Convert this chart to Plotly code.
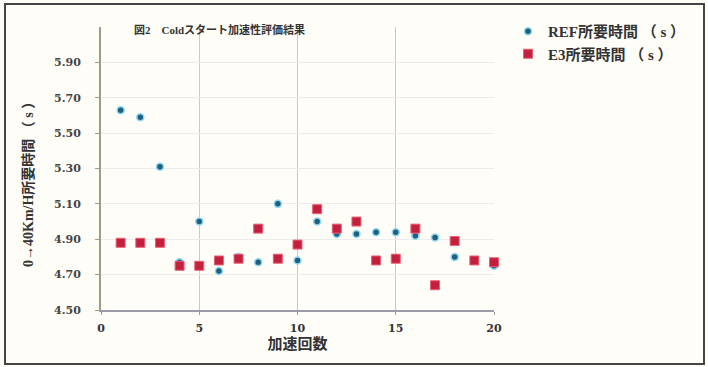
import plotly.graph_objects as go

runs = list(range(1, 21))
ref_time = [5.63, 5.59, 5.31, 4.77, 5.00, 4.72, 4.80, 4.77, 5.10, 4.78,
            5.00, 4.93, 4.93, 4.94, 4.94, 4.92, 4.91, 4.80, 4.78, 4.75]
e3_time = [4.88, 4.88, 4.88, 4.75, 4.75, 4.78, 4.79, 4.96, 4.79, 4.87,
           5.07, 4.96, 5.00, 4.78, 4.79, 4.96, 4.64, 4.89, 4.78, 4.77]
y_ticks = [4.50, 4.70, 4.90, 5.10, 5.30, 5.50, 5.70, 5.90]
x_ticks = [0, 5, 10, 15, 20]

FONT = "Liberation Serif, Noto Sans CJK JP, serif"
NUMFONT = "DejaVu Serif, serif"

fig = go.Figure()
fig.add_trace(go.Scatter(
    x=runs, y=ref_time, mode="markers", name="REF所要時間 （ s ）", cliponaxis=False,
    marker=dict(symbol="circle", size=7, color="#1f5f7f",
                line=dict(color="#8fd8ee", width=1.5)),
))
fig.add_trace(go.Scatter(
    x=runs, y=e3_time, mode="markers", name="E3所要時間 （ s ）", cliponaxis=False,
    marker=dict(symbol="square", size=9, color="#c4203c",
                line=dict(color="#e8607a", width=1)),
))

fig.update_layout(
    width=708, height=367,
    margin=dict(l=101, r=214, t=27, b=57, autoexpand=False),
    paper_bgcolor="#fefdf8",
    plot_bgcolor="#fefdf8",
    font=dict(family=FONT, size=10, color="#333333"),
    showlegend=True,
    legend=dict(x=(508 - 101) / 393, y=1 + 12 / 283, xanchor="left", yanchor="top",
                bgcolor="rgba(0,0,0,0)", tracegroupgap=0, itemwidth=30,
                font=dict(family=FONT, size=15, color="#333333", weight="bold"),
                itemsizing="trace"),
    xaxis=dict(range=[0, 20], tickvals=x_ticks, ticktext=[str(v) for v in x_ticks],
               showgrid=True, gridcolor="#c8c8d0", gridwidth=1,
               showline=True, linecolor="#9a9aa8", linewidth=2,
               ticks="outside", ticklen=3, tickcolor="#9a9aa8",
               zeroline=False, ticklabelstandoff=4,
               tickfont=dict(family=NUMFONT, size=11, color="#333333", weight="bold"),
               title=dict(text="加速回数", standoff=4,
                          font=dict(family=FONT, size=15, color="#333333", weight="bold"))),
    yaxis=dict(range=[4.5, 6.1], tickvals=y_ticks,
               ticktext=[f"{v:.2f}" for v in y_ticks],
               showgrid=True, gridcolor="#ececec", gridwidth=1,
               showline=True, linecolor="#a09a88", linewidth=2,
               ticks="outside", ticklen=4, tickcolor="#a09a88",
               zeroline=False, ticklabelstandoff=12,
               tickfont=dict(family=NUMFONT, size=11, color="#444444", weight="bold")),
)

fig.add_annotation(
    text="0→40Km/H所要時間 （ s ）", xref="paper", yref="paper",
    x=(28 - 101) / 393, y=(310 - 181) / 283, xanchor="center", yanchor="middle",
    textangle=-90, showarrow=False,
    font=dict(family=FONT, size=14, color="#333333", weight="bold"),
)

fig.add_annotation(
    text="図2　Coldスタート加速性評価結果", xref="paper", yref="paper",
    x=(219 - 101) / 393, y=1 + (27 - 29) / 283, xanchor="center", yanchor="middle",
    showarrow=False,
    font=dict(family=FONT, size=11, color="#333333", weight="bold"),
)

# scanned-frame border
fig.add_shape(type="rect", xref="paper", yref="paper",
              x0=-96 / 393, x1=1 + 210 / 393,
              y0=-54 / 283, y1=1 + 23 / 283,
              line=dict(color="#444444", width=2), layer="below")

fig.write_html("out.html", config={"displayModeBar": False},
               post_script="document.body.style.margin='0px';")
